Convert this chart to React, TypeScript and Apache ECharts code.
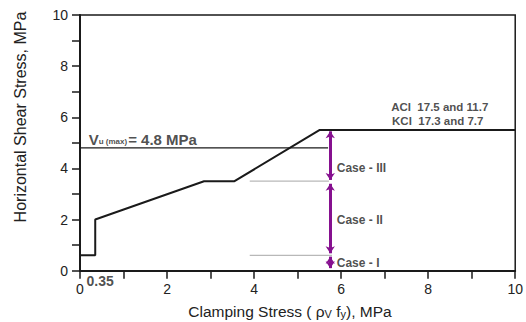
import React, { useEffect, useRef } from "react";
import * as echarts from "echarts";

const FONT = "Liberation Sans, Arial, sans-serif";

// main design curve (clamping stress, horizontal shear stress)
const curveX = [0, 0.35, 0.35, 2.85, 3.55, 5.5, 10];
const curveY = [0.6, 0.6, 2.0, 3.5, 3.5, 5.5, 5.5];
// vu(max) line
const vuMax = 4.8;
const vuEndX = 5.7;
// gray boundary lines
const grayLevels = [3.5, 0.6];
const grayStartX = 3.9;
const grayEndX = [5.72, 5.79];
// case arrows [yTop, yBottom]
const arrowX = 5.75;
const caseRanges = [
  [5.45, 3.55],
  [3.4, 0.68],
  [0.55, 0.1],
];
const caseNames = ["Case - III", "Case - II", "Case - I"];
const caseLabelY = [4.0, 2.0, 0.31];
const caseLabelX = 5.9;
const codeNotes = ["ACI  17.5 and 11.7", "KCI  17.3 and 7.7"];
const codeNoteX = [7.15, 7.17];
const codeNoteY = [6.4, 5.87];
const xTicks = [0, 2, 4, 6, 8, 10];
const yTicks = [0, 2, 4, 6, 8, 10];

export default function App() {
  const ref = useRef<HTMLDivElement>(null);
  useEffect(() => {
    if (!ref.current) return;
    const chart = echarts.init(ref.current, null, { renderer: "svg" });
    const curve = curveX.map((x, i) => [x, curveY[i]]);
    const black = "#1a1a1a";
    chart.setOption({
      animation: false,
      backgroundColor: "#ffffff",
      textStyle: { fontFamily: FONT },
      grid: {
        left: 80,
        top: 15,
        right: 5.5,
        bottom: 51.3,
        show: true,
        borderColor: black,
        borderWidth: 1.5,
      },
      xAxis: {
        type: "value",
        min: 0,
        max: 10,
        interval: 1,
        axisLine: { show: true, lineStyle: { color: black, width: 2 } },
        axisTick: { show: true, inside: false, length: 8, lineStyle: { color: black, width: 1.5 } },
        axisLabel: {
          margin: 11,
          color: "#222",
          fontSize: 14,
          fontFamily: FONT,
          formatter: (v: number) => (xTicks.includes(v) ? String(v) : ""),
        },
        splitLine: { show: false },
      },
      yAxis: {
        type: "value",
        min: 0,
        max: 10,
        interval: 1,
        axisLine: { show: true, lineStyle: { color: black, width: 2 } },
        axisTick: { show: true, inside: false, length: 8, lineStyle: { color: black, width: 1.5 } },
        axisLabel: {
          margin: 12,
          color: "#222",
          fontSize: 14,
          fontFamily: FONT,
          formatter: (v: number) => (yTicks.includes(v) ? String(v) : ""),
        },
        splitLine: { show: false },
      },
      graphic: [
        {
          type: "text",
          x: 20,
          y: 117,
          rotation: Math.PI / 2,
          style: {
            text: "Horizontal Shear Stress, MPa",
            fontSize: 16,
            fontFamily: FONT,
            fill: "#222",
            align: "center",
            verticalAlign: "middle",
          },
        },
        {
          type: "text",
          x: 290,
          y: 311,
          style: {
            text: "{a|Clamping Stress ( ρ}{s|V}{a| f}{s|y}{a|), MPa}",
            rich: {
              a: { fontSize: 15.5, fontFamily: FONT, fill: "#222", verticalAlign: "middle" },
              s: { fontSize: 11, fontFamily: FONT, fill: "#222", padding: [6, 0, 0, 0], verticalAlign: "middle" },
            },
            align: "center",
            verticalAlign: "middle",
          },
        },
      ],
      series: [
        {
          type: "line",
          data: curve,
          symbol: "none",
          lineStyle: { color: black, width: 2 },
          z: 5,
        },
        {
          type: "line",
          data: [
            [0, vuMax],
            [vuEndX, vuMax],
          ],
          symbol: "none",
          lineStyle: { color: black, width: 1.2 },
        },
        ...grayLevels.map((lv, i) => ({
          type: "line",
          data: [
            [grayStartX, lv],
            [grayEndX[i], lv],
          ],
          symbol: "none",
          lineStyle: { color: "#b8b8b8", width: 1.2 },
        })),
        {
          type: "line",
          data: [],
          markLine: {
            silent: true,
            symbol: ["arrow", "arrow"],
            symbolSize: [7, 7],
            label: { show: false },
            lineStyle: { color: "#86108f", width: 3, type: "solid" },
            data: caseRanges.map((r) => [
              { coord: [arrowX, r[0]] },
              { coord: [arrowX, r[1]] },
            ]),
          },
        },
        {
          type: "scatter",
          symbolSize: 0,
          data: caseNames.map((n, i) => ({ value: [caseLabelX, caseLabelY[i]], name: n })),
          label: {
            show: true,
            position: "right",
            distance: 0,
            formatter: (p: any) => p.name,
            fontSize: 12,
            fontWeight: "bold",
            fontFamily: FONT,
            color: "#222",
          },
        },
        {
          type: "scatter",
          symbolSize: 0,
          data: codeNotes.map((n, i) => ({ value: [codeNoteX[i], codeNoteY[i]], name: n })),
          label: {
            show: true,
            position: "right",
            distance: 0,
            formatter: (p: any) => p.name,
            fontSize: 11.5,
            lineHeight: 12,
            fontWeight: "bold",
            fontFamily: FONT,
            color: "#222",
          },
        },
        {
          type: "scatter",
          symbolSize: 0,
          data: [{ value: [0.2, 5.14], name: "vu" }],
          label: {
            show: true,
            position: "right",
            distance: 0,
            formatter: "{v|V}{s|u (max)}{v|= 4.8 MPa}",
            rich: {
              v: { fontSize: 15, fontWeight: "bold", fontFamily: FONT, color: "#222" },
              s: { fontSize: 8, fontWeight: "bold", fontFamily: FONT, color: "#222", padding: [5, 1, 0, 0] },
            },
          },
        },
        {
          type: "scatter",
          symbolSize: 0,
          data: [{ value: [0.15, 0], name: "0.35" }],
          label: {
            show: true,
            position: "right",
            distance: 0,
            offset: [0, 10],
            formatter: "0.35",
            fontSize: 14,
            fontWeight: "bold",
            fontFamily: FONT,
            color: "#222",
          },
        },
      ],
    });
    return () => chart.dispose();
  }, []);
  return (
    <div
      ref={ref}
      style={{ position: "fixed", left: 0, top: 0, width: 526, height: 322 }}
    />
  );
}
